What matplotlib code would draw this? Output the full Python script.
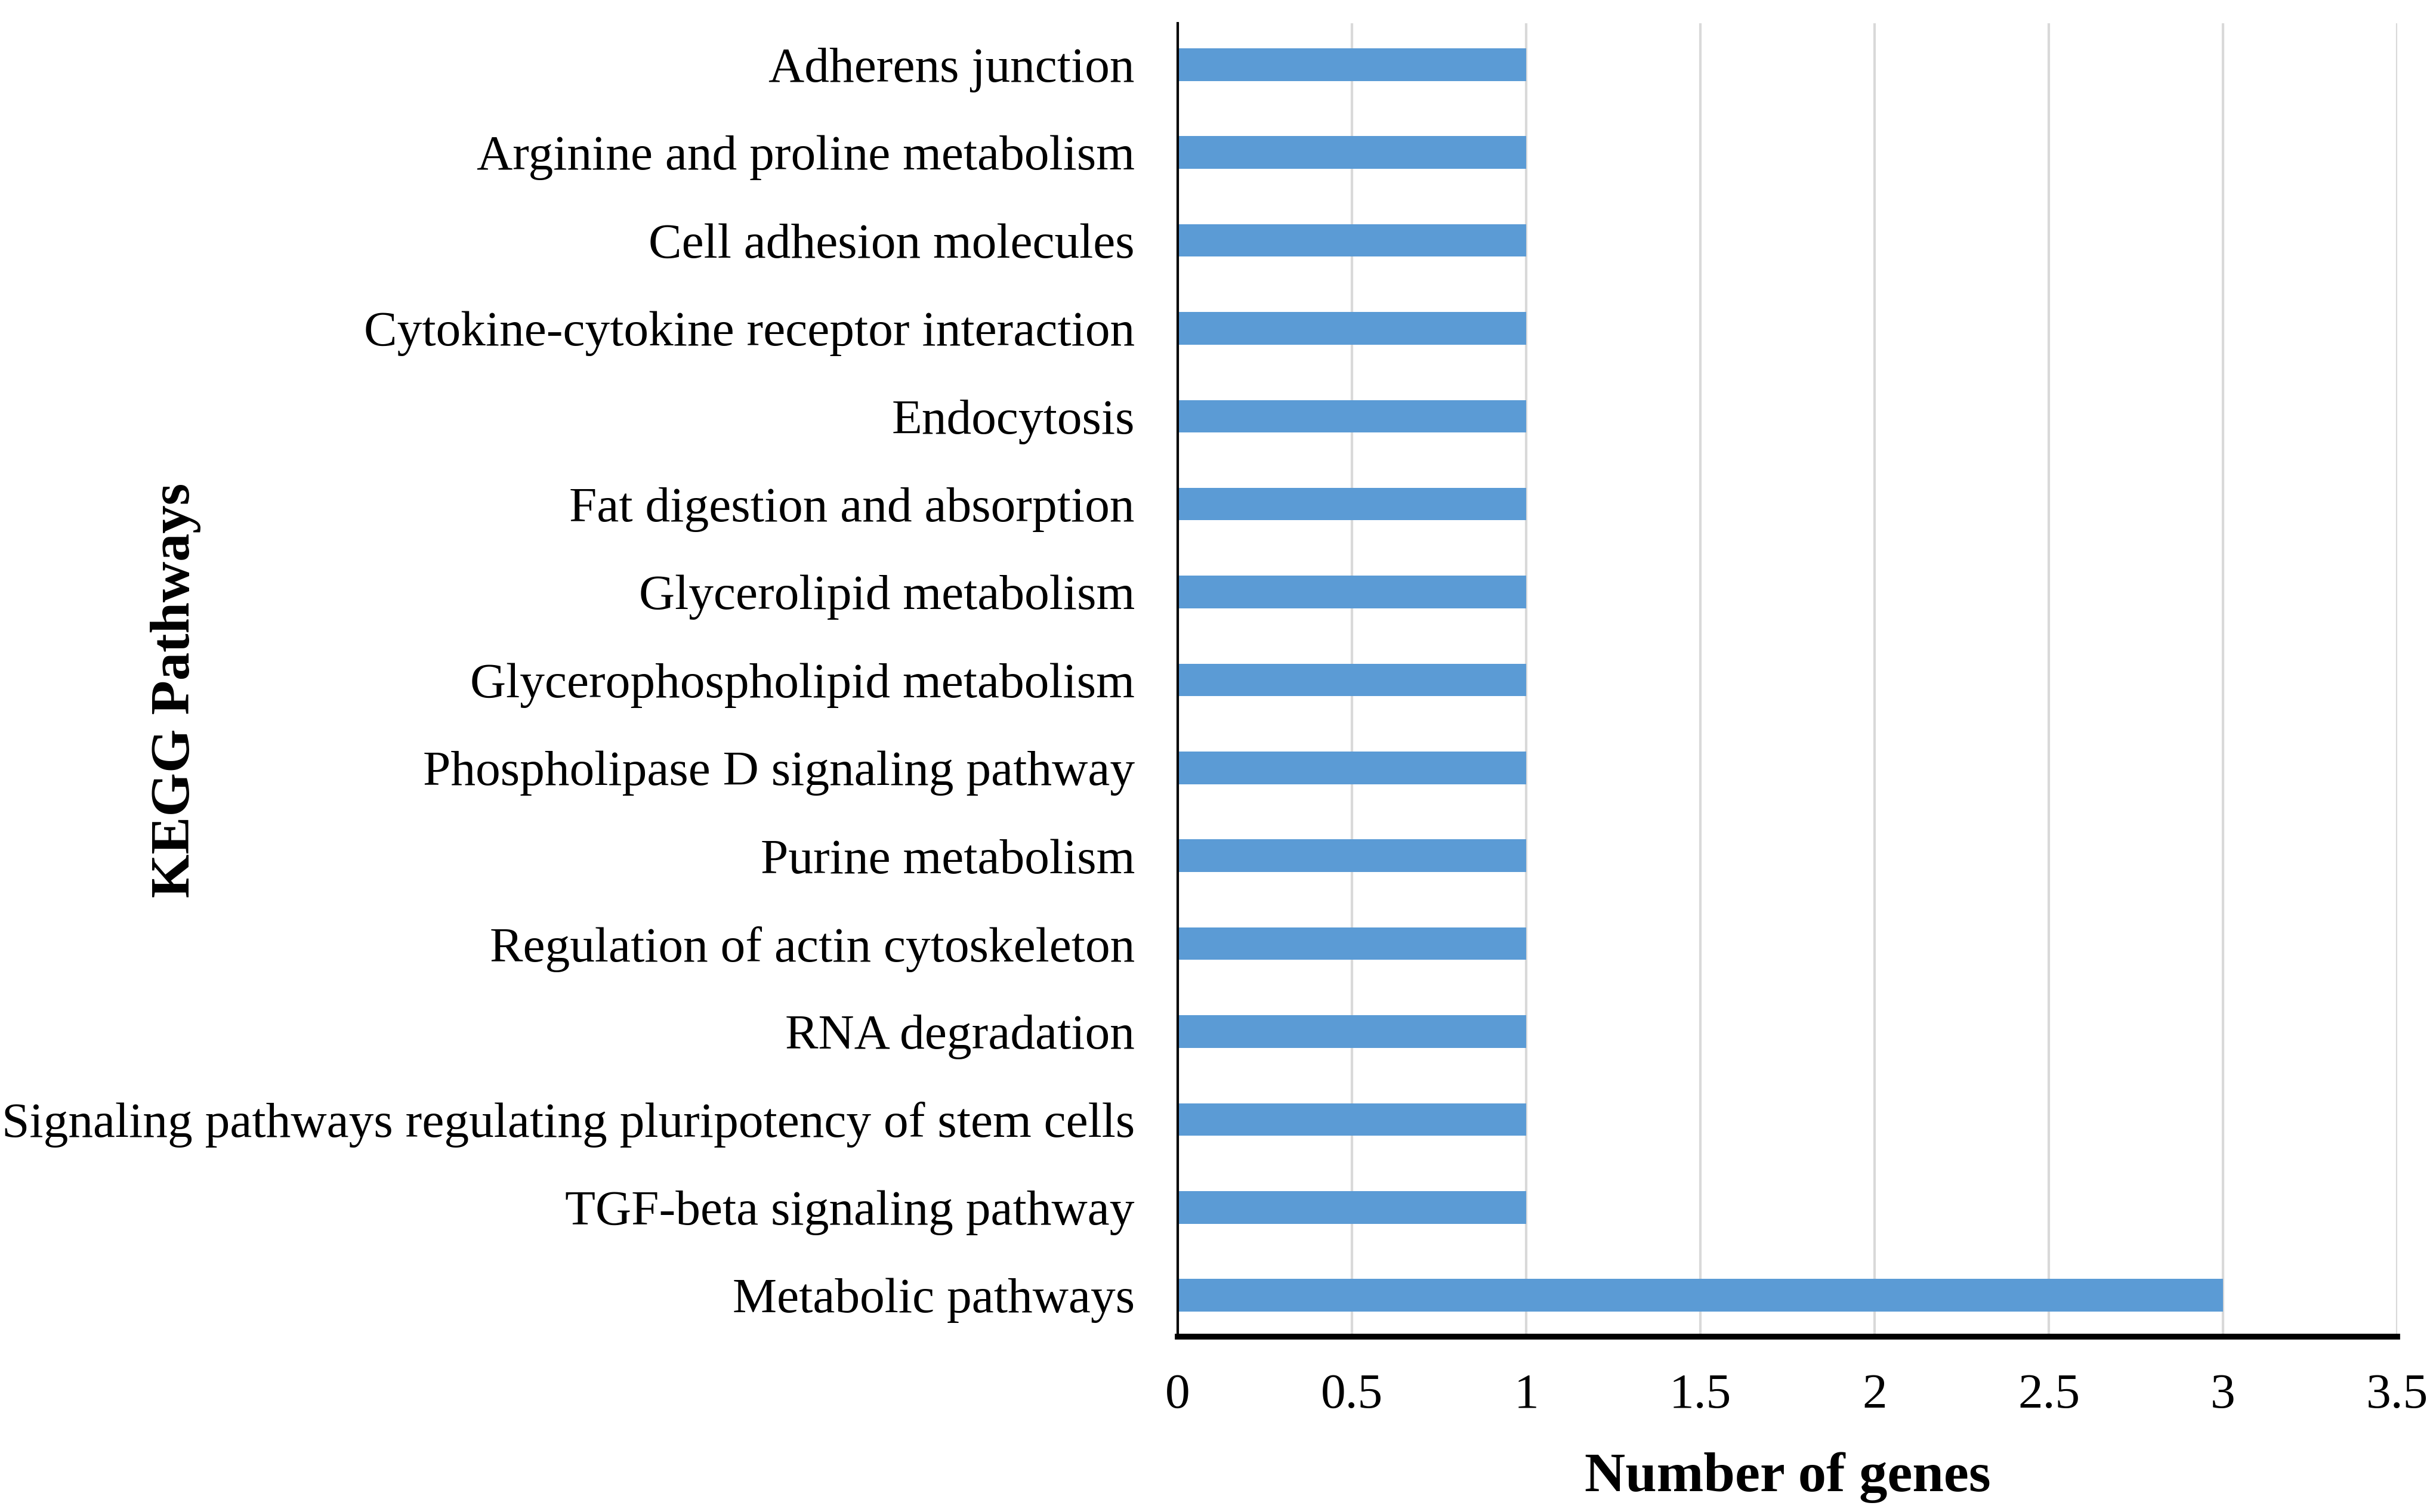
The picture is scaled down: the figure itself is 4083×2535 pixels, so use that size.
import matplotlib
matplotlib.use("Agg")
import matplotlib.pyplot as plt

pathways = [
    "Adherens junction",
    "Arginine and proline metabolism",
    "Cell adhesion molecules",
    "Cytokine-cytokine receptor interaction",
    "Endocytosis",
    "Fat digestion and absorption",
    "Glycerolipid metabolism",
    "Glycerophospholipid metabolism",
    "Phospholipase D signaling pathway",
    "Purine metabolism",
    "Regulation of actin cytoskeleton",
    "RNA degradation",
    "Signaling pathways regulating pluripotency of stem cells",
    "TGF-beta signaling pathway",
    "Metabolic pathways",
]
gene_counts = [1, 1, 1, 1, 1, 1, 1, 1, 1, 1, 1, 1, 1, 1, 3]
x_ticks = [0, 0.5, 1, 1.5, 2, 2.5, 3, 3.5]
x_tick_labels = ["0", "0.5", "1", "1.5", "2", "2.5", "3", "3.5"]

plt.rcParams["font.family"] = ["Liberation Serif", "DejaVu Serif"]

fig = plt.figure(figsize=(40.83, 25.35), dpi=100)
ax = fig.add_axes([0.4835, 0.116, 0.5006, 0.8686])

pos = list(range(len(pathways)))
ax.barh(pos, gene_counts, height=0.37, color="#5B9BD5", zorder=3)
ax.set_ylim(len(pathways) - 0.53, -0.47)
ax.set_xlim(0, 3.5)

ax.set_yticks(pos)
ax.set_yticklabels(pathways, fontsize=60)
ax.set_xticks(x_ticks)
ax.set_xticklabels(x_tick_labels, fontsize=60)
ax.tick_params(axis="y", length=0, pad=52)
ax.tick_params(axis="x", length=0, pad=44)

ax.grid(axis="x", color="#D9D9D9", linewidth=3, zorder=0)
for s in ["top", "right"]:
    ax.spines[s].set_visible(False)
ax.spines["left"].set_linewidth(3)
ax.spines["bottom"].set_linewidth(7)
ax.spines["left"].set_zorder(4)
ax.spines["bottom"].set_zorder(4)

ax.set_xlabel("Number of genes", fontsize=68, fontweight="bold")
ax.set_ylabel("KEGG Pathways", fontsize=68, fontweight="bold")
ax.xaxis.set_label_coords(0.5, -0.088)
ax.yaxis.set_label_coords(-0.801, 0.492)

fig.savefig("out.png", dpi=100, facecolor="white")
